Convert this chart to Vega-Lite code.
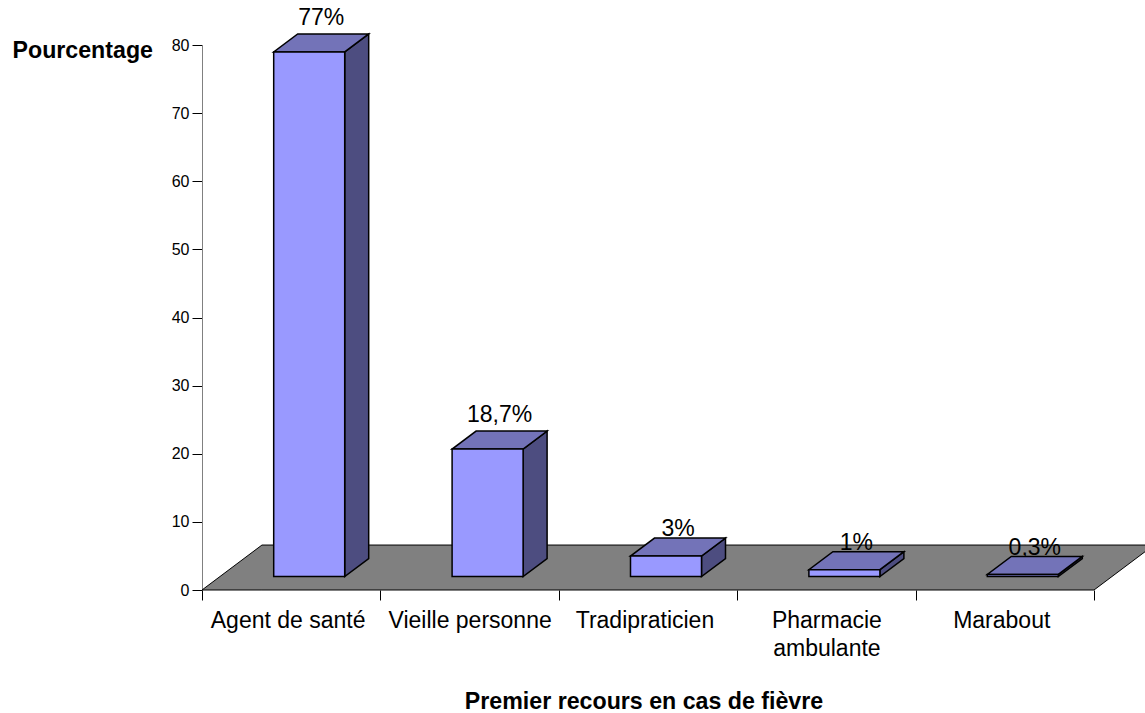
{
  "$schema": "https://vega.github.io/schema/vega-lite/v6.json",
  "width": 892,
  "height": 545,
  "autosize": "none",
  "padding": {"left": 202, "top": 45, "right": 51, "bottom": 123},
  "background": "white",
  "config": {"view": {"stroke": null}, "font": "Liberation Sans"},
  "datasets": {
    "recours": [
      {"recours": "Agent de santé", "pourcentage": 77, "etiquette": "77%"},
      {"recours": "Vieille personne", "pourcentage": 18.7, "etiquette": "18,7%"},
      {"recours": "Tradipraticien", "pourcentage": 3, "etiquette": "3%"},
      {"recours": "Pharmacie ambulante", "pourcentage": 1, "etiquette": "1%"},
      {"recours": "Marabout", "pourcentage": 0.3, "etiquette": "0,3%"}
    ],
    "sol": [
      {"bande": 0, "bas": 0, "haut": 0},
      {"bande": 0.336, "bas": 0, "haut": 6.6},
      {"bande": 5, "bas": 0, "haut": 6.6},
      {"bande": 5.336, "bas": 6.6, "haut": 6.6}
    ]
  },
  "layer": [
    {
      "data": {"name": "sol"},
      "mark": {"type": "area", "fill": "#808080", "stroke": "#000000", "strokeWidth": 1, "clip": false},
      "encoding": {
        "x": {
          "field": "bande",
          "type": "quantitative",
          "scale": {"domain": [0, 5], "nice": false, "zero": false},
          "axis": {
            "values": [0, 0.48, 1, 1.5, 2, 2.48, 3, 3.5, 4, 4.48, 5],
            "grid": false,
            "domain": false,
            "title": "Premier recours en cas de fièvre",
            "titleFontSize": 23.2,
            "titleFontWeight": "bold",
            "titleColor": "#000000",
            "titleX": 441.5,
            "titleY": 118,
            "titleAlign": "center",
            "titleBaseline": "alphabetic",
            "tickColor": "#000000",
            "tickSize": 10,
            "tickOpacity": {"condition": {"test": "datum.value % 1 != 0", "value": 0}, "value": 1},
            "labelFontSize": 23,
            "labelColor": "#000000",
            "labelPadding": 9,
            "labelLineHeight": 28,
            "labelFlush": false,
            "labelBound": false,
            "labelOverlap": false,
            "labelAngle": 0,
            "labelExpr": "datum.value == 0.48 ? 'Agent de santé' : datum.value == 1.5 ? 'Vieille personne' : datum.value == 2.48 ? 'Tradipraticien' : datum.value == 3.5 ? ['Pharmacie', 'ambulante'] : datum.value == 4.48 ? 'Marabout' : ''"
          }
        },
        "y": {
          "field": "bas",
          "type": "quantitative",
          "scale": {"domain": [0, 80], "nice": false},
          "axis": {
            "values": [0, 10, 20, 30, 40, 50, 60, 70, 80],
            "grid": false,
            "domainColor": "#808080",
            "domainWidth": 1,
            "tickColor": "#000000",
            "tickSize": 10,
            "labelFontSize": 16,
            "labelColor": "#000000",
            "labelPadding": 3,
            "title": "Pourcentage",
            "titleAngle": 0,
            "titleFontSize": 23.2,
            "titleFontWeight": "bold",
            "titleColor": "#000000",
            "titleX": -190,
            "titleY": 12,
            "titleAlign": "left",
            "titleBaseline": "alphabetic"
          }
        },
        "y2": {"field": "haut"}
      }
    },
    {
      "data": {"name": "recours"},
      "transform": [
        {"window": [{"op": "row_number", "as": "rang"}]},
        {"calculate": "datum.rang - 0.5 + 0.1009 + 0.0673", "as": "centre_etiquette"},
        {"calculate": "datum.pourcentage + 1.98 + 2.642 - (datum.pourcentage < 10 ? 1.05 : 0)", "as": "y_etiquette"}
      ],
      "mark": {"type": "text", "fontSize": 23, "color": "#000000", "baseline": "alphabetic", "dy": -9},
      "encoding": {
        "x": {"field": "centre_etiquette", "type": "quantitative"},
        "y": {"field": "y_etiquette", "type": "quantitative"},
        "text": {"field": "etiquette"}
      }
    },
    {
      "data": {"name": "recours"},
      "transform": [
        {"window": [{"op": "row_number", "as": "rang"}]},
        {"calculate": "datum.rang - 0.5 + 0.1009 + 0.199", "as": "droite"},
        {"calculate": "datum.pourcentage + 1.98", "as": "sommet"},
        {"calculate": "1.98", "as": "base"},
        {"calculate": "[0, 1]", "as": "p"},
        {"flatten": ["p"]},
        {"calculate": "datum.droite + datum.p * 0.1345", "as": "x_cote"},
        {"calculate": "datum.sommet + datum.p * 2.642", "as": "y_cote"},
        {"calculate": "datum.base + datum.p * 2.642", "as": "y2_cote"}
      ],
      "mark": {"type": "area", "fill": "#4D4D80", "stroke": "#000000", "strokeWidth": 1.5},
      "encoding": {
        "x": {"field": "x_cote", "type": "quantitative"},
        "y": {"field": "y_cote", "type": "quantitative"},
        "y2": {"field": "y2_cote"},
        "detail": {"field": "recours"}
      }
    },
    {
      "data": {"name": "recours"},
      "transform": [
        {"window": [{"op": "row_number", "as": "rang"}]},
        {"calculate": "datum.rang - 0.5 + 0.1009 - 0.199", "as": "gauche"},
        {"calculate": "datum.rang - 0.5 + 0.1009 + 0.199", "as": "droite"},
        {"calculate": "datum.pourcentage + 1.98", "as": "sommet"},
        {"calculate": "[0, 1, 2, 3]", "as": "p"},
        {"flatten": ["p"]},
        {"calculate": "datum.p == 0 ? datum.gauche : datum.p == 1 ? datum.gauche + 0.1345 : datum.p == 2 ? datum.droite : datum.droite + 0.1345", "as": "x_dessus"},
        {"calculate": "datum.p == 3 ? datum.sommet + 2.642 : datum.sommet", "as": "y_dessus"},
        {"calculate": "datum.p == 0 ? datum.sommet : datum.sommet + 2.642", "as": "y2_dessus"}
      ],
      "mark": {"type": "area", "fill": "#7373B8", "stroke": "#000000", "strokeWidth": 1.5},
      "encoding": {
        "x": {"field": "x_dessus", "type": "quantitative"},
        "y": {"field": "y_dessus", "type": "quantitative"},
        "y2": {"field": "y2_dessus"},
        "detail": {"field": "recours"}
      }
    },
    {
      "data": {"name": "recours"},
      "transform": [
        {"window": [{"op": "row_number", "as": "rang"}]},
        {"calculate": "datum.rang - 0.5 + 0.1009 - 0.199", "as": "gauche"},
        {"calculate": "datum.rang - 0.5 + 0.1009 + 0.199", "as": "droite"},
        {"calculate": "datum.pourcentage + 1.98", "as": "sommet"},
        {"calculate": "1.98", "as": "base"}
      ],
      "mark": {"type": "rect", "fill": "#9999FF", "stroke": "#000000", "strokeWidth": 1.5},
      "encoding": {
        "x": {"field": "gauche", "type": "quantitative"},
        "x2": {"field": "droite"},
        "y": {"field": "sommet", "type": "quantitative"},
        "y2": {"field": "base"}
      }
    }
  ]
}
